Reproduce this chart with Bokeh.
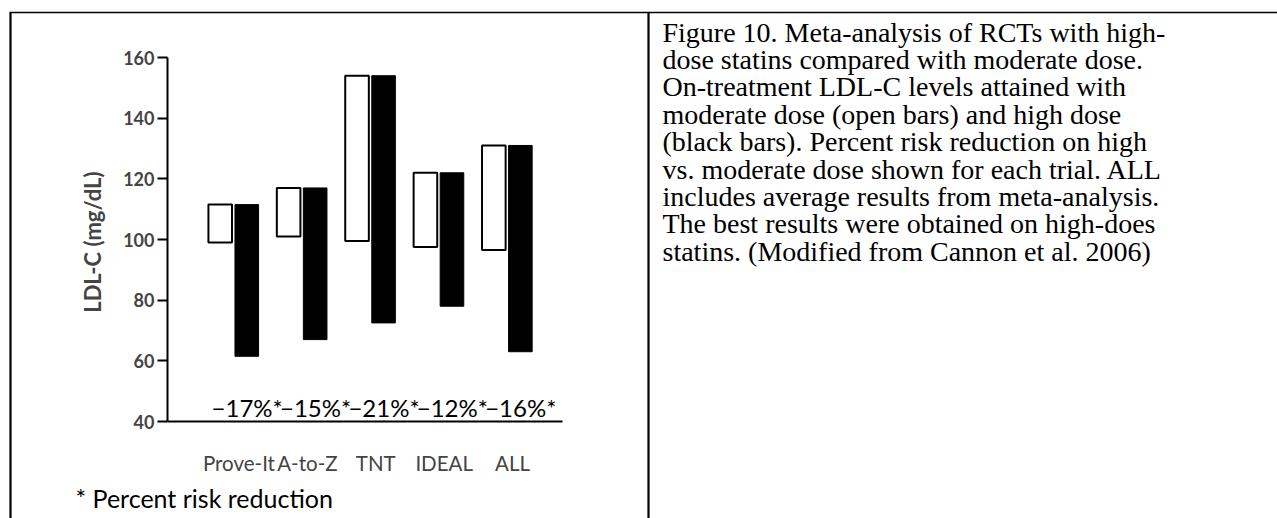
import numpy as np
from bokeh.plotting import figure
from bokeh.models import Range1d, FixedTicker
from bokeh.core.properties import value
from bokeh.embed import file_html
from bokeh.resources import INLINE

# ---------------- data ----------------
trials = ["Prove-It", "A-to-Z", "TNT", "IDEAL", "ALL"]
baseline_ldl = [111.5, 117, 154, 122, 131]     # common top of both bars
moderate_ldl = [99, 101, 99.5, 97.5, 96.5]      # open bars (moderate dose)
high_ldl = [61.5, 67, 72.5, 78, 63]             # black bars (high dose)
risk_reduction = [17, 15, 21, 12, 16]           # percent risk reduction
y_ticks = [40, 60, 80, 100, 120, 140, 160]
y_label = "LDL-C  (mg/dL)"
footnote = "* Percent risk reduction"
caption_lines = [
    "Figure 10.  Meta-analysis of RCTs with high-",
    "dose statins compared with moderate dose.",
    "On-treatment LDL-C levels attained with",
    "moderate dose (open bars) and high dose",
    "(black bars).  Percent risk reduction on high",
    "vs. moderate dose shown for each trial.  ALL",
    "includes average results from meta-analysis.",
    "The best results were obtained on high-does",
    "statins. (Modified from Cannon et al. 2006)",
]

# ---------------- layout (page pixels) ----------------
W, H = 1277, 518

REF_X1 = 233.0        # x of first trial
REF_DX = 68.4         # spacing between trials
REF_Y40 = 421.0       # y of value 40
REF_Y160 = 57.0       # y of value 160
Y_PPU = (REF_Y40 - REF_Y160) / 120.0


def ux(rx):
    return 1 + (rx - REF_X1) / REF_DX


def vy(ry):
    return 40 + (REF_Y40 - ry) / Y_PPU


p = figure(width=W, height=H,
           x_range=Range1d(ux(0), ux(W)), y_range=Range1d(vy(H), vy(0)),
           output_backend="svg", toolbar_location=None, min_border=0)
p.outline_line_color = None
p.background_fill_color = "white"
p.border_fill_color = "white"
p.xgrid.visible = False
p.ygrid.visible = False

xs = np.arange(1, len(trials) + 1, dtype=float)
dx = 0.194
bw = 0.345

p.vbar(x=xs - dx, bottom=moderate_ldl, top=baseline_ldl, width=bw,
       fill_color="white", line_color="black", line_width=2)
p.vbar(x=xs + dx, bottom=high_ldl, top=baseline_ldl, width=bw,
       fill_color="black", line_color="black", line_width=1)

p.text(x=xs + 0.2, y=[vy(407)] * len(xs),
       text=["\u2212%d%%*" % r for r in risk_reduction],
       text_font=value("Lato"), text_font_size="24px",
       text_align="center", text_baseline="middle", text_color="black")

# y axis
ya = p.yaxis[0]
ya.fixed_location = ux(167)
ya.bounds = (40, 160)
ya.ticker = FixedTicker(ticks=y_ticks)
ya.axis_line_width = 2
ya.major_tick_line_width = 2
ya.major_tick_out = 10
ya.major_tick_in = 0
ya.minor_tick_line_color = None
ya.major_label_text_font = "Lato"
ya.major_label_text_font_style = "bold"
ya.major_label_text_font_size = "18px"
ya.major_label_standoff = 3
ya.axis_label = y_label
ya.axis_label_text_font = "Lato"
ya.axis_label_text_font_style = "bold"
ya.axis_label_text_font_size = "22px"
ya.axis_label_standoff = 14

# x axis
xa = p.xaxis[0]
xa.fixed_location = 40
xa.bounds = (ux(167), ux(562))
tick_pos = [float(v) + 0.08 for v in xs]
xa.ticker = FixedTicker(ticks=tick_pos)
xa.major_label_overrides = {t: name for t, name in zip(tick_pos, trials)}
xa.axis_line_width = 2
xa.major_tick_line_color = None
xa.minor_tick_line_color = None
xa.major_label_text_font = "Lato"
xa.major_label_text_font_size = "20.5px"
xa.major_label_standoff = 23

# footnote
p.text(x=[ux(75)], y=[vy(497)], text=[footnote],
       text_font=value("Lato"), text_font_size="25px",
       text_align="left", text_baseline="middle", text_color="black")

# caption
p.text(x=[ux(662)] * len(caption_lines),
       y=[vy(31.5 + 27.4 * i) for i in range(len(caption_lines))],
       text=caption_lines,
       text_font=value("Liberation Serif"), text_font_size="28px",
       text_align="left", text_baseline="alphabetic", text_color="black")

# table borders
p.segment(x0=[ux(10), ux(648)], y0=[vy(12)] * 2,
          x1=[ux(10), ux(648)], y1=[vy(530)] * 2,
          line_color="black", line_width=2.2)
p.segment(x0=[ux(9)], y0=[vy(12)], x1=[ux(1290)], y1=[vy(12)],
          line_color="black", line_width=1.5)

open("out.html", "w").write(file_html(p, INLINE))
